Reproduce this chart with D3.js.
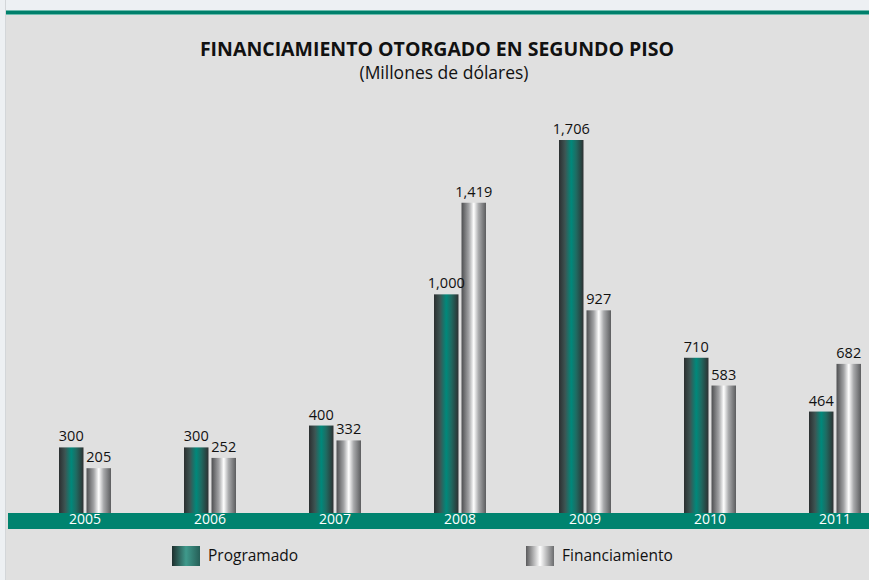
<!DOCTYPE html>
<html>
<head>
<meta charset="utf-8">
<script src="https://cdn.jsdelivr.net/npm/d3@7"></script>
<style>
  body { margin: 0; background: #edf0f3; }
  svg { display: block; font-family: "Open Sans", "Noto Sans", sans-serif; }
</style>
</head>
<body>
<svg width="869" height="580"></svg>
<script>
// datos
var years = ["2005", "2006", "2007", "2008", "2009", "2010", "2011"];
var programado = [300, 300, 400, 1000, 1706, 710, 464];
var financiamiento = [205, 252, 332, 1419, 927, 583, 682];
var series = ["Programado", "Financiamiento"];

var svg = d3.select("svg"),
    W = +svg.attr("width"),
    H = +svg.attr("height");

var defs = svg.append("defs");

function grad(id, stops) {
  var g = defs.append("linearGradient").attr("id", id)
    .attr("x1", "0%").attr("x2", "100%").attr("y1", "0%").attr("y2", "0%");
  stops.forEach(function(s) {
    g.append("stop").attr("offset", s[0]).attr("stop-color", s[1]);
  });
}
grad("gTeal", [["0%", "#2b2f30"], ["25%", "#3d5553"], ["50%", "#00897b"], ["70%", "#1f6b62"], ["100%", "#2e3132"]]);
grad("gGray", [["0%", "#4e4f51"], ["30%", "#a3a4a6"], ["50%", "#ffffff"], ["70%", "#a8a9ab"], ["100%", "#5c5d5f"]]);
grad("lTeal", [["0%", "#1f2f2e"], ["50%", "#3f9a8c"], ["100%", "#265e57"]]);
grad("lGray", [["0%", "#5a5a5c"], ["50%", "#ffffff"], ["100%", "#6a6b6d"]]);

// fondo
svg.append("rect").attr("x", 6).attr("y", 10).attr("width", W - 6).attr("height", H - 10).attr("fill", "#e0e0e0");
svg.append("line").attr("x1", 5.5).attr("x2", 5.5).attr("y1", 0).attr("y2", H).attr("stroke", "#d3d6d9");
svg.append("rect").attr("x", 6).attr("y", 10).attr("width", W - 6).attr("height", 5).attr("fill", "#6dbcae");
svg.append("rect").attr("x", 6).attr("y", 11).attr("width", W - 6).attr("height", 3).attr("fill", "#00806c");

// titulo
svg.append("text").attr("x", 437).attr("y", 56).attr("text-anchor", "middle")
  .attr("font-size", 19.5).attr("font-weight", "bold").attr("fill", "#111")
  .text("FINANCIAMIENTO OTORGADO EN SEGUNDO PISO");
svg.append("text").attr("x", 444).attr("y", 79).attr("text-anchor", "middle")
  .attr("font-size", 17.5).attr("fill", "#111")
  .text("(Millones de dólares)");

// escalas
var baseY = 513;
var x0 = d3.scaleBand().domain(years).range([22.5, 897.5]);
var x1 = d3.scaleBand().domain(series).range([-26, 26]).paddingInner(0.11);
var y = d3.scaleLinear().domain([0, 1706]).range([baseY, 140]);

var fills = { "Programado": "url(#gTeal)", "Financiamiento": "url(#gGray)" };

var data = years.map(function(yr, i) {
  return { year: yr, vals: [
    { key: "Programado", value: programado[i] },
    { key: "Financiamiento", value: financiamiento[i] }
  ]};
});

var groups = svg.append("g").selectAll("g").data(data).enter().append("g")
  .attr("transform", function(d) { return "translate(" + (x0(d.year) + x0.bandwidth() / 2) + ",0)"; });

groups.selectAll("rect").data(function(d) { return d.vals; }).enter().append("rect")
  .attr("x", function(d) { return x1(d.key); })
  .attr("width", x1.bandwidth())
  .attr("y", function(d) { return y(d.value); })
  .attr("height", function(d) { return baseY - y(d.value); })
  .attr("fill", function(d) { return fills[d.key]; });

groups.selectAll("text").data(function(d) { return d.vals; }).enter().append("text")
  .attr("x", function(d) { return x1(d.key) + x1.bandwidth() / 2; })
  .attr("y", function(d) { return y(d.value) - 6; })
  .attr("text-anchor", "middle")
  .attr("font-size", 14.5).attr("fill", "#111")
  .text(function(d) { return d3.format(",")(d.value); });

// banda del eje
svg.append("rect").attr("x", 8).attr("y", baseY).attr("width", W - 8).attr("height", 16).attr("fill", "#00836f");
var axis = svg.append("g").attr("transform", "translate(0," + baseY + ")")
  .call(d3.axisBottom(x0).tickSize(0).tickPadding(1));
axis.select(".domain").remove();
axis.selectAll("text").attr("fill", "#fff").attr("font-size", 14)
  .attr("font-family", "'Open Sans', 'Noto Sans', sans-serif");

// leyenda
var legend = [
  { key: "Programado", x: 172, fill: "url(#lTeal)" },
  { key: "Financiamiento", x: 526, fill: "url(#lGray)" }
];
var lg = svg.append("g").selectAll("g").data(legend).enter().append("g")
  .attr("transform", function(d) { return "translate(" + d.x + ",546)"; });
lg.append("rect").attr("width", 28).attr("height", 20).attr("fill", function(d) { return d.fill; });
lg.append("text").attr("x", 36).attr("y", 15).attr("font-size", 15.5).attr("fill", "#111")
  .text(function(d) { return d.key; });
</script>
</body>
</html>
